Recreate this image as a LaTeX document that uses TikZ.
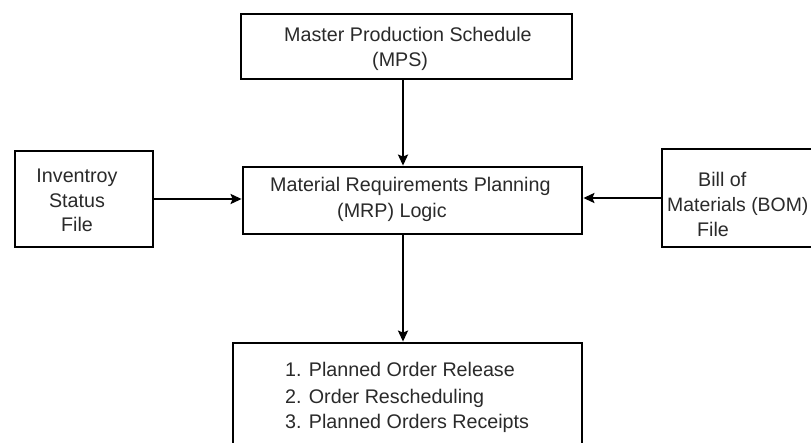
\documentclass[tikz,border=0pt]{standalone}
\usepackage{fontspec}
\setmainfont{Liberation Sans}
\usetikzlibrary{arrows.meta}
\definecolor{txt}{HTML}{2A2A2A}
\begin{document}
\begin{tikzpicture}[x=1pt,y=-1pt,
  box/.style={draw=black,line width=2.8pt,rectangle,inner sep=0pt,fill=white},
  lbl/.style={text=txt,inner sep=0pt,font=\fontsize{19.7}{25}\selectfont},
  arr/.style={line width=2.8pt,-{Stealth[length=11pt,width=10pt,inset=2pt]}}]
\clip (0,0) rectangle (811,443);
\fill[white] (0,0) rectangle (811,443);
% boxes
\node[box,minimum width=331pt,minimum height=65pt] (mps) at (406.5,46.5) {};
\node[box,minimum width=339pt,minimum height=67pt] (mrp) at (412.5,200.5) {};
\node[box,minimum width=138pt,minimum height=96pt] (inv) at (84,199) {};
\node[box,minimum width=178pt,minimum height=98pt] (bom) at (751,198) {};
\node[box,minimum width=349pt,minimum height=127pt] (out) at (407.5,406.5) {};
% texts
\node[lbl,anchor=base west] (t1) at (284,42) {Master Production Schedule};
\node[lbl,anchor=base west] (t2) at (372,67) {(MPS)};
\node[lbl,anchor=base west] (t3) at (270,192) {Material Requirements Planning};
\node[lbl,anchor=base west] (t4) at (337,218) {(MRP) Logic};
\node[lbl,anchor=base] (t5) at (77,183) {Inventroy};
\node[lbl,anchor=base] (t6) at (77,208) {Status};
\node[lbl,anchor=base] (t7) at (77,232) {File};
\node[lbl,anchor=base west] (t8) at (698,187) {Bill of};
\node[lbl,anchor=base west,font=\fontsize{19.4}{25}\selectfont] (t9) at (667,212) {Materials (BOM)};
\node[lbl,anchor=base west] (t10) at (697,237) {File};
\node[lbl,anchor=base west] (t11) at (285,377) {1. Planned Order Release};
\node[lbl,anchor=base west] (t12) at (285,403) {2. Order Rescheduling};
\node[lbl,anchor=base west] (t13) at (285,428) {3. Planned Orders Receipts};
% connectors
\coordinate (ax) at (403,0);
\draw[arr] (mps.south -| ax) -- (mrp.north -| ax);
\draw[arr] (mrp.south -| ax) -- (out.north -| ax);
\draw[arr] (inv.east) -- (inv.east -| mrp.west);
\draw[arr] (bom.west) -- (bom.west -| mrp.east);
\end{tikzpicture}
\end{document}
